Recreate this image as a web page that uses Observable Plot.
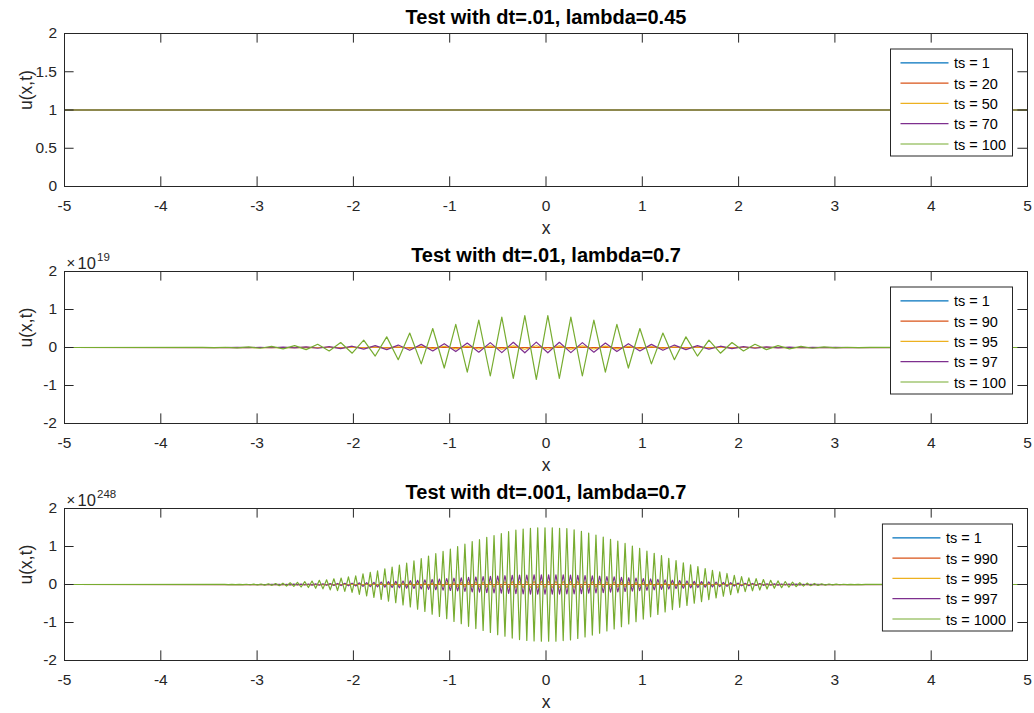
<!DOCTYPE html>
<html><head><meta charset="utf-8">
<script src="https://cdn.jsdelivr.net/npm/d3@7"></script>
<script src="https://cdn.jsdelivr.net/npm/@observablehq/plot@0.6"></script>
<style>body{margin:0;background:#fff;} #chart svg{display:block;}</style>
</head><body><div id="chart"></div>
<script>
// ---------- data ----------
const xTicks = [-5,-4,-3,-2,-1,0,1,2,3,4,5];
const yTicksTop = [0,0.5,1,1.5,2];
const yTicksSym = [-2,-1,0,1,2];
const titles = ["Test with dt=.01, lambda=0.45","Test with dt=.01, lambda=0.7","Test with dt=.001, lambda=0.7"];
const legend1 = ["ts = 1","ts = 20","ts = 50","ts = 70","ts = 100"];
const legend2 = ["ts = 1","ts = 90","ts = 95","ts = 97","ts = 100"];
const legend3 = ["ts = 1","ts = 990","ts = 995","ts = 997","ts = 1000"];
const colors = ["#0072BD","#D95319","#EDB120","#7E2F8E","#77AC30"];
const exponents = [null, "19", "248"];

// flat series (x end points and values)
const flatX = [-5, 5];
const oneY = [1, 1];
const zeroY = [0, 0];

// spatial grid spacing of each run, x_i = -5 + i*dx
const dx2 = 0.1195;
const dx3 = 0.0378;

// panel 2 (units of 1e19)
const mid95Start = 20;
const mid95 = [-0.003,0.004,-0.005,0.006,-0.008,0.01,-0.012,0.014,-0.017,0.02,
-0.023,0.026,-0.029,0.032,-0.035,0.037,-0.04,0.042,-0.043,0.044,
-0.045,0.045,-0.045,0.044,-0.043,0.042,-0.04,0.037,-0.035,0.032,
-0.029,0.026,-0.023,0.02,-0.017,0.014,-0.012,0.01,-0.008,0.006,
-0.005,0.004,-0.003];
const mid97Start = 14;
const mid97 = [-0.002,0.003,-0.004,0.005,-0.007,0.009,-0.012,0.015,-0.019,0.023,
-0.028,0.034,-0.041,0.048,-0.056,0.064,-0.073,0.082,-0.091,0.1,
-0.108,0.116,-0.123,0.129,-0.134,0.137,-0.139,0.14,-0.139,0.137,
-0.134,0.129,-0.123,0.116,-0.108,0.1,-0.091,0.082,-0.073,0.064,
-0.056,0.048,-0.041,0.034,-0.028,0.023,-0.019,0.015,-0.012,0.009,
-0.007,0.005,-0.004,0.003,-0.002];
const mid100Start = 12;
const mid100 = [0.002,-0.004,0.007,-0.01,0.015,-0.02,0.03,-0.035,0.05,-0.055,
0.085,-0.09,0.13,-0.15,0.195,-0.225,0.28,-0.32,0.38,-0.43,
0.5,-0.54,0.61,-0.65,0.72,-0.75,0.8,-0.815,0.84,-0.84,
0.84,-0.815,0.8,-0.75,0.72,-0.65,0.61,-0.54,0.5,-0.43,
0.38,-0.32,0.28,-0.225,0.195,-0.15,0.13,-0.09,0.085,-0.055,
0.05,-0.035,0.03,-0.02,0.015,-0.01,0.007,-0.004,0.002];

// panel 3 (units of 1e248)
const bot995Start = 72;
const bot995 = [-0.007,0.007,-0.008,0.008,-0.009,0.01,-0.011,0.011,-0.012,0.014,
-0.015,0.016,-0.017,0.018,-0.019,0.021,-0.022,0.023,-0.024,0.025,
-0.027,0.029,-0.03,0.031,-0.033,0.034,-0.036,0.038,-0.04,0.041,
-0.043,0.045,-0.046,0.048,-0.049,0.051,-0.053,0.055,-0.056,0.058,
-0.06,0.061,-0.063,0.064,-0.066,0.067,-0.068,0.07,-0.071,0.072,
-0.074,0.075,-0.076,0.077,-0.078,0.078,-0.079,0.079,-0.079,0.079,
-0.079,0.079,-0.079,0.079,-0.078,0.078,-0.078,0.077,-0.076,0.075,
-0.074,0.073,-0.072,0.07,-0.069,0.068,-0.066,0.065,-0.063,0.062,
-0.06,0.059,-0.057,0.055,-0.054,0.052,-0.05,0.048,-0.047,0.045,
-0.043,0.042,-0.04,0.038,-0.037,0.035,-0.033,0.032,-0.03,0.029,
-0.028,0.026,-0.025,0.024,-0.022,0.021,-0.02,0.019,-0.017,0.016,
-0.015,0.014,-0.013,0.012,-0.011,0.01,-0.009,0.009,-0.008,0.008,
-0.007];
const bot997Start = 56;
const bot997 = [-0.003,0.004,-0.004,0.005,-0.006,0.007,-0.008,0.009,-0.01,0.011,
-0.013,0.014,-0.015,0.017,-0.019,0.02,-0.021,0.024,-0.026,0.027,
-0.029,0.031,-0.034,0.036,-0.039,0.044,-0.048,0.051,-0.054,0.058,
-0.061,0.066,-0.07,0.075,-0.078,0.082,-0.087,0.092,-0.095,0.1,
-0.105,0.11,-0.116,0.121,-0.128,0.133,-0.138,0.143,-0.148,0.153,
-0.158,0.165,-0.17,0.175,-0.18,0.187,-0.192,0.197,-0.2,0.206,
-0.211,0.214,-0.219,0.224,-0.228,0.231,-0.236,0.24,-0.243,0.247,
-0.248,0.25,-0.251,0.252,-0.253,0.253,-0.253,0.253,-0.252,0.252,
-0.251,0.251,-0.25,0.248,-0.245,0.241,-0.238,0.235,-0.23,0.226,
-0.221,0.218,-0.213,0.207,-0.202,0.199,-0.194,0.189,-0.184,0.177,
-0.172,0.167,-0.162,0.155,-0.15,0.145,-0.139,0.134,-0.129,0.122,
-0.117,0.112,-0.107,0.102,-0.097,0.094,-0.088,0.083,-0.08,0.077,
-0.071,0.068,-0.063,0.06,-0.056,0.053,-0.049,0.046,-0.041,0.037,
-0.036,0.032,-0.03,0.028,-0.026,0.025,-0.022,0.02,-0.019,0.017,
-0.016,0.014,-0.013,0.012,-0.01,0.009,-0.008,0.007,-0.006,0.005,
-0.005,0.004,-0.003];
const bot1000Start = 44;
const bot1000 = [0.0015,-0.002,0.0025,-0.003,0.0035,-0.0045,0.006,-0.007,0.008,-0.01,
0.012,-0.015,0.018,-0.022,0.026,-0.03,0.035,-0.04,0.045,-0.051,
0.058,-0.066,0.074,-0.08,0.09,-0.1,0.11,-0.115,0.125,-0.14,
0.15,-0.16,0.17,-0.18,0.2,-0.21,0.23,-0.26,0.28,-0.3,
0.32,-0.34,0.36,-0.39,0.41,-0.44,0.46,-0.48,0.51,-0.54,
0.56,-0.59,0.62,-0.65,0.68,-0.71,0.75,-0.78,0.81,-0.84,
0.87,-0.9,0.93,-0.97,1.0,-1.03,1.06,-1.1,1.13,-1.16,
1.18,-1.21,1.24,-1.26,1.29,-1.32,1.34,-1.36,1.39,-1.41,
1.43,-1.45,1.46,-1.47,1.48,-1.485,1.49,-1.49,
1.49,-1.49,1.49,-1.49,1.48,-1.475,1.47,-1.46,1.44,-1.42,
1.4,-1.38,1.355,-1.33,1.3,-1.28,1.25,-1.22,1.19,-1.17,
1.14,-1.11,1.08,-1.04,1.01,-0.98,0.95,-0.91,0.88,-0.85,
0.82,-0.79,0.76,-0.72,0.69,-0.66,0.63,-0.6,0.57,-0.55,
0.52,-0.49,0.47,-0.45,0.42,-0.4,0.37,-0.35,0.33,-0.31,
0.29,-0.27,0.24,-0.22,0.21,-0.19,0.175,-0.165,0.155,-0.145,
0.13,-0.12,0.11,-0.1,0.095,-0.085,0.078,-0.07,0.06,-0.053,
0.047,-0.042,0.037,-0.032,0.027,-0.023,0.019,-0.016,0.013,-0.011,
0.009,-0.007,0.006,-0.005,0.004,-0.003,0.0025,-0.002,0.0015];

// ---------- helpers ----------
function flat(ys) { return flatX.map((x, i) => ({x, y: ys[i]})); }
function gridSeries(dx, start, vals) {
  const rows = [{x: flatX[0], y: 0}];
  vals.forEach((v, k) => rows.push({x: -5 + dx * (start + k), y: v}));
  rows.push({x: flatX[1], y: 0});
  return rows;
}

const FONT = "'Liberation Sans', Arial, Helvetica, sans-serif";
const INK = "#262626";

function panel({height, mt, mb, yDomain, yTicks, title, exp, series, labels}) {
  const W = 1034, ml = 64, mr = 7, tl = 9.6;
  const axW = W - ml - mr, axH = height - mt - mb;
  const marks = [];
  series.forEach((s, i) => marks.push(Plot.line(s, {x: "x", y: "y", stroke: colors[i], strokeWidth: 1.2})));
  marks.push(
    Plot.ruleX(xTicks, {x: d => d, insetTop: axH - tl, stroke: INK}),
    Plot.ruleX(xTicks, {x: d => d, insetBottom: axH - tl, stroke: INK}),
    Plot.ruleY(yTicks, {y: d => d, insetRight: axW - tl, stroke: INK}),
    Plot.ruleY(yTicks, {y: d => d, insetLeft: axW - tl, stroke: INK}),
    Plot.frame({stroke: INK}),
    Plot.axisX(xTicks, {tickSize: 0, tickPadding: 13.5, tickFormat: d => String(d), label: null, fill: INK, fontSize: 15.5}),
    Plot.axisY(yTicks, {tickSize: 0, tickPadding: 7.5, tickFormat: d => String(d), label: null, fill: INK, fontSize: 15.5}),
    Plot.text([title], {text: d => d, frameAnchor: "top", lineAnchor: "middle", dy: -15.5, fontWeight: "bold", fontSize: 20, fill: "#000"}),
    Plot.text(["x"], {text: d => d, frameAnchor: "bottom", lineAnchor: "middle", dy: 42, fontSize: 17.5, fill: INK}),
    Plot.text(["u(x,t)"], {text: d => d, frameAnchor: "left", lineAnchor: "middle", dx: -38, rotate: -90, fontSize: 17.5, fill: INK})
  );
  if (exp) {
    marks.push(
      Plot.text(["×"], {text: d => d, frameAnchor: "top-left", lineAnchor: "middle", dx: 2, dy: -8, textAnchor: "start", fontSize: 15, fill: INK}),
      Plot.text(["10"], {text: d => d, frameAnchor: "top-left", lineAnchor: "middle", dx: 13, dy: -8, textAnchor: "start", fontSize: 16.5, fill: INK}),
      Plot.text([exp], {text: d => d, frameAnchor: "top-left", lineAnchor: "middle", dx: 32.5, dy: -14.5, textAnchor: "start", fontSize: 11.5, fill: INK})
    );
  }
  const svg = Plot.plot({
    width: W, height, marginLeft: ml, marginRight: mr, marginTop: mt, marginBottom: mb,
    x: {domain: [-5, 5]},
    y: {domain: yDomain},
    style: {fontFamily: FONT, fontSize: "15px", background: "#fff", color: INK},
    marks
  });
  document.getElementById("chart").appendChild(svg);

  // legend box (upper-right, inside axes)
  const g = d3.select(svg).append("g").attr("font-family", FONT).attr("font-size", 14.5).attr("text-anchor", "start");
  const top = mt + 16, right = W - mr - 14.5;
  const rect = g.append("rect").attr("fill", "#fff").attr("stroke", INK).attr("stroke-width", 1);
  const texts = labels.map(lab => g.append("text").text(lab).attr("fill", "#000")
    .attr("text-anchor", "start").attr("dominant-baseline", "central"));
  const tw = d3.max(texts, t => t.node().getComputedTextLength());
  const boxW = 64 + tw + 6, boxH = 107, left = right - boxW;
  rect.attr("x", left).attr("y", top).attr("width", boxW).attr("height", boxH);
  labels.forEach((lab, i) => {
    const cy = top + 13.8 + i * 20.3;
    g.append("line").attr("x1", left + 10).attr("x2", left + 58).attr("y1", cy).attr("y2", cy)
      .attr("stroke", colors[i]).attr("stroke-width", 1.2);
    texts[i].attr("x", left + 63.5).attr("y", cy + 0.5);
  });
}

panel({height: 237, mt: 33, mb: 51, yDomain: [0, 2], yTicks: yTicksTop, title: titles[0], exp: exponents[0],
  labels: legend1,
  series: [flat(oneY), flat(oneY), flat(oneY), flat(oneY), flat(oneY)]});
panel({height: 237, mt: 34, mb: 51, yDomain: [-2, 2], yTicks: yTicksSym, title: titles[1], exp: exponents[1],
  labels: legend2,
  series: [flat(zeroY), flat(zeroY), gridSeries(dx2, mid95Start, mid95), gridSeries(dx2, mid97Start, mid97), gridSeries(dx2, mid100Start, mid100)]});
panel({height: 239, mt: 34, mb: 53, yDomain: [-2, 2], yTicks: yTicksSym, title: titles[2], exp: exponents[2],
  labels: legend3,
  series: [flat(zeroY), flat(zeroY), gridSeries(dx3, bot995Start, bot995), gridSeries(dx3, bot997Start, bot997), gridSeries(dx3, bot1000Start, bot1000)]});
</script>
</body></html>
